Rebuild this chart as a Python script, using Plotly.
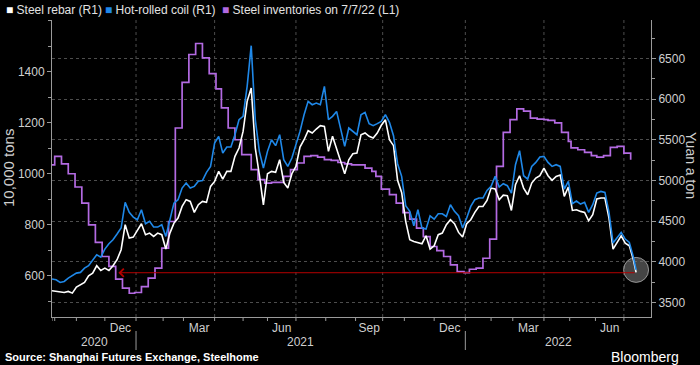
import pandas as pd
import plotly.graph_objects as go

# ---------------- data ----------------
START, END = "2020-09-29", "2022-07-29"
LAST_PRICE_DATE = "2022-07-14"
LAST_INV_DATE = "2022-07-08"

# Shanghai Futures Exchange holidays (weekdays with no trading)
HOLIDAYS = [
    "2020-10-01", "2020-10-02", "2020-10-05", "2020-10-06", "2020-10-07", "2020-10-08",
    "2021-01-01", "2021-02-11", "2021-02-12", "2021-02-15", "2021-02-16", "2021-02-17",
    "2021-04-05", "2021-05-03", "2021-05-04", "2021-05-05", "2021-06-14",
    "2021-09-20", "2021-09-21", "2021-10-01", "2021-10-04", "2021-10-05",
    "2021-10-06", "2021-10-07",
    "2022-01-03", "2022-01-31", "2022-02-01", "2022-02-02", "2022-02-03", "2022-02-04",
    "2022-04-04", "2022-04-05", "2022-05-02", "2022-05-03", "2022-05-04", "2022-06-03",
]

# Hot-rolled coil, yuan a ton (every third trading day + last day)
hrc = [
    3787, 3778, 3745, 3758, 3799, 3828, 3860, 3869, 3922, 3951,
    4016, 4086, 4057, 4156, 4222, 4271, 4341, 4415, 4731, 4608,
    4550, 4517, 4640, 4468, 4497, 4427, 4427, 4456, 4312, 4509,
    4722, 4764, 4907, 4969, 4907, 4928, 4990, 5000,
    5100, 5174, 5461, 5543, 5338, 5412, 5412, 5564, 5749, 5790,
    6159, 6660, 5749, 5359, 5154, 5359, 5502, 5429, 5564, 5256,
    5174, 5277, 5441, 5605, 5810, 5975, 5933, 5954, 5933, 6159,
    5749, 5790, 5851, 5626, 5420, 5646, 5605,
    5564, 5810, 5839, 5700, 5675, 5700, 5728, 5810, 5716, 5552,
    5207, 5051, 4690, 4620, 4443, 4640, 4415, 4402, 4566, 4525,
    4591, 4591, 4558, 4702, 4620, 4566, 4415, 4538, 4681, 4764,
    4784, 4784, 4878, 4928, 5051, 4920, 4961,
    4936, 4846, 5195, 5367, 5059, 5018, 5174, 5223, 5289, 5297,
    5223, 5174, 5195, 5174, 4895, 4989, 4714, 4747, 4710, 4731,
    4608, 4702, 4846, 4866, 4854, 4608, 4230, 4291, 4361, 4279,
    4238, 4057, 3900,
]

# Steel rebar, yuan a ton (same dates)
rebar = [
    3643, 3635, 3626, 3622, 3635, 3614, 3688, 3717, 3745, 3828,
    3860, 3951, 3893, 3922, 3893, 3951, 4025, 4148, 4456, 4291,
    4304, 4386, 4468, 4333, 4353, 4312, 4353, 4333, 4156, 4353,
    4476, 4538, 4681, 4764, 4743, 4608, 4702, 4743,
    4731, 4928, 4989, 5112, 5018, 5112, 5112, 5297, 5400, 5605,
    5975, 6139, 5400, 5071, 4700, 5084, 5112, 5100, 5256, 4977,
    4907, 5084, 5174, 5412, 5502, 5613, 5585, 5634, 5675, 5667,
    5359, 5544, 5400, 5256, 5084, 5256, 5330,
    5338, 5564, 5585, 5544, 5523, 5585, 5680, 5749, 5503, 5429,
    5002, 4854, 4497, 4271, 4250, 4238, 4222, 4320, 4156, 4197,
    4333, 4353, 4456, 4517, 4468, 4361, 4304, 4468, 4517, 4608,
    4681, 4681, 4755, 4907, 4895, 4764, 4820,
    4813, 4632, 4948, 5059, 4907, 4825, 4969, 5030, 5059, 5154,
    5059, 5002, 5051, 5067, 4805, 4920, 4632, 4640, 4620, 4608,
    4505, 4579, 4772, 4784, 4784, 4538, 4156, 4230, 4320, 4230,
    4197, 4025, 3870,
]

# Steel inventories, 10,000 tons (weekly, last trading day of each week)
inventories = [
    1035, 1035, 1068, 1039, 1000, 948, 885, 800, 731, 676,
    637, 587, 552, 532, 535,
    558, 591, 630, 709, 813, 813, 1179, 1358,
    1467, 1510, 1454, 1392, 1332, 1258, 1179, 1133, 1075,
    1075, 1016, 977, 963, 966, 966, 990, 1016,
    1042, 1068, 1071, 1065, 1055, 1052, 1044, 1039, 1035,
    1035, 1022, 1009, 990, 940, 940, 918, 885, 848,
    822, 787, 754, 715, 699, 676, 643, 617, 613,
    626, 630, 669, 744, 1029, 1162, 1212,
    1254, 1245, 1218, 1214, 1212, 1209, 1199, 1162, 1127,
    1101, 1094, 1084, 1071, 1065, 1071, 1103, 1107, 1081, 1055,
]

REF_LEVEL = 3865            # level of the red reference line (yuan a ton)
REF_TARGET_DATE = "2020-12-15"

label_months = ["2020-12", "2021-03", "2021-06", "2021-09", "2021-12", "2022-03", "2022-06"]
month_labels = ["Dec", "Mar", "Jun", "Sep", "Dec", "Mar", "Jun"]
years = ["2020", "2021", "2022"]

series_names = ["Steel rebar (R1)", "Hot-rolled coil (R1)", "Steel inventories on 7/7/22 (L1)"]

# ---------------- calendar ----------------
hol = pd.to_datetime(HOLIDAYS)
cal_all = pd.bdate_range("2020-09-21", END).difference(hol)
trading = cal_all[(cal_all >= START) & (cal_all < END)]

price_days = trading[trading <= LAST_PRICE_DATE]
idx = list(range(0, len(price_days), 3))
if idx[-1] != len(price_days) - 1:
    idx.append(len(price_days) - 1)
price_dates = price_days[idx]
assert len(price_dates) == len(hrc) == len(rebar), (len(price_dates), len(hrc), len(rebar))

inv_cal = cal_all[cal_all <= LAST_INV_DATE]
inv_dates = pd.Series(inv_cal, index=inv_cal).groupby(inv_cal.to_period("W-FRI")).max().values
inv_dates = pd.to_datetime(inv_dates)
assert len(inv_dates) == len(inventories), (len(inv_dates), len(inventories))


def mid_of(days):
    n = len(days)
    d = days[n // 2]
    return d + pd.Timedelta(hours=12) if n % 2 else d


label_pos = [mid_of(trading[trading.strftime("%Y-%m") == m]) for m in label_months]
year_pos = [mid_of(trading[trading.strftime("%Y") == y]) for y in years]

month_starts = pd.Series(trading, index=trading).groupby(trading.to_period("M")).min()
month_starts = pd.to_datetime(month_starts.values)
quarter_starts = [d for d in month_starts if d.month in (1, 4, 7, 10) and d.year >= 2021]
year_starts = [d for d in month_starts if d.month == 1]

# ---------------- style ----------------
WHITE = "#ffffff"
BLUE = "#1f88e8"
PURPLE = "#b36ae2"
TXT = "#cfcfcf"
GRID = "#4d4d4d"
AXIS = "#9a9a9a"
FONT = "Liberation Sans, Arial, sans-serif"
PLOT_H = 297

fig = go.Figure()
fig.add_trace(go.Scatter(
    x=inv_dates, y=inventories, mode="lines", name=series_names[2],
    line=dict(color=PURPLE, width=1.7, shape="hv"), yaxis="y", hoverinfo="skip"))
fig.add_trace(go.Scatter(
    x=[price_dates[-1]], y=[hrc[-1]], mode="markers", showlegend=False,
    marker=dict(size=25, color="rgba(125,125,125,0.55)",
                line=dict(color="rgba(175,175,175,0.8)", width=1)),
    yaxis="y2", hoverinfo="skip"))
fig.add_trace(go.Scatter(
    x=price_dates, y=rebar, mode="lines", name=series_names[0],
    line=dict(color=WHITE, width=1.6), yaxis="y2", hoverinfo="skip"))
fig.add_trace(go.Scatter(
    x=price_dates, y=hrc, mode="lines", name=series_names[1],
    line=dict(color=BLUE, width=1.6), yaxis="y2", hoverinfo="skip"))

shapes = []
for d in quarter_starts:
    shapes.append(dict(type="line", xref="x", yref="paper", x0=d, x1=d, y0=0, y1=1,
                       line=dict(color=GRID, width=1, dash="dot"), layer="below"))
for d in month_starts:
    shapes.append(dict(type="line", xref="x", yref="paper", x0=d, x1=d, y0=0, y1=-4 / PLOT_H,
                       line=dict(color=AXIS, width=1)))
for d in year_starts:
    shapes.append(dict(type="line", xref="x", yref="paper", x0=d, x1=d,
                       y0=-14 / PLOT_H, y1=-33 / PLOT_H, line=dict(color=AXIS, width=1)))

annotations = []
for y, p in zip(years, year_pos):
    annotations.append(dict(x=p, y=-25 / PLOT_H, xref="x", yref="paper", text=y,
                            showarrow=False, font=dict(size=12, color=TXT, family=FONT),
                            xanchor="center", yanchor="middle"))
# red reference arrow
annotations.append(dict(x=REF_TARGET_DATE, y=REF_LEVEL, xref="x", yref="y2",
                        ax=price_dates[-1], ay=REF_LEVEL, axref="x", ayref="y2",
                        text="", showarrow=True, arrowhead=4, arrowsize=1.6,
                        arrowwidth=1, arrowcolor="#b40000"))
# axis titles
annotations.append(dict(x=-43.5 / 599, y=0.5, xref="paper", yref="paper", text="10,000 tons",
                        textangle=-90, showarrow=False, xanchor="center", yanchor="middle",
                        font=dict(size=15, color=TXT, family=FONT)))
annotations.append(dict(x=639.5 / 599, y=0.51, xref="paper", yref="paper", text="Yuan a ton",
                        textangle=90, showarrow=False, xanchor="center", yanchor="middle",
                        font=dict(size=14, color=TXT, family=FONT)))
# legend
legend_items = [(WHITE, series_names[0], 4), (BLUE, series_names[1], 103), (PURPLE, series_names[2], 220)]
for col, name, px in legend_items:
    annotations.append(dict(
        x=(px - 52) / 599, y=1 + 10 / PLOT_H, xref="paper", yref="paper",
        text=f'<span style="color:{col}">■</span> {name}', showarrow=False,
        xanchor="left", yanchor="middle", font=dict(size=12, color="#e2e2e2", family=FONT)))
# source & brand
annotations.append(dict(x=-49 / 599, y=-40 / PLOT_H, xref="paper", yref="paper",
                        text="<b>Source: Shanghai Futures Exchange, Steelhome</b>",
                        showarrow=False, xanchor="left", yanchor="middle",
                        font=dict(size=11, color="#ffffff", family=FONT)))
annotations.append(dict(x=629 / 599, y=-40 / PLOT_H, xref="paper", yref="paper",
                        text="Bloomberg", showarrow=False, xanchor="right", yanchor="middle",
                        font=dict(size=14, color="#ffffff", family=FONT)))

fig.update_layout(
    width=700, height=365,
    margin=dict(l=52, r=49, t=20, b=48, autoexpand=False),
    paper_bgcolor="#000000", plot_bgcolor="#000000",
    showlegend=False,
    font=dict(family=FONT, color=TXT, size=12),
    xaxis=dict(
        type="date", range=[START, END], automargin=False,
        rangebreaks=[dict(bounds=["sat", "mon"]), dict(values=HOLIDAYS)],
        tickmode="array", tickvals=label_pos, ticktext=month_labels,
        ticks="", showgrid=False, zeroline=False,
        showline=True, linecolor=AXIS, linewidth=1,
        tickfont=dict(size=12, color=TXT),
    ),
    yaxis=dict(
        range=[439, 1602], tickmode="array", tickvals=[600, 800, 1000, 1200, 1400],
        ticks="outside", ticklen=4, tickcolor=AXIS, automargin=False,
        minor=dict(tickmode="linear", tick0=500, dtick=100, ticks="outside",
                   ticklen=3, tickcolor=AXIS, showgrid=False),
        showgrid=False, zeroline=False, showline=True, linecolor=AXIS, linewidth=1,
        tickfont=dict(size=12, color=TXT),
    ),
    yaxis2=dict(
        overlaying="y", side="right", automargin=False,
        range=[3320, 6976], tickmode="array",
        tickvals=[3500, 4000, 4500, 5000, 5500, 6000, 6500],
        ticks="outside", ticklen=4, tickcolor=AXIS,
        minor=dict(tickmode="linear", tick0=3250, dtick=250, ticks="outside",
                   ticklen=3, tickcolor=AXIS, showgrid=False),
        showgrid=True, gridcolor=GRID, griddash="dot", gridwidth=1,
        zeroline=False, showline=True, linecolor=AXIS, linewidth=1,
        tickfont=dict(size=12, color=TXT),
    ),
    shapes=shapes,
    annotations=annotations,
)

fig.write_html(
    "out.html",
    config={"displayModeBar": False},
    post_script="document.body.style.margin='0px';document.body.style.padding='0px';",
)
